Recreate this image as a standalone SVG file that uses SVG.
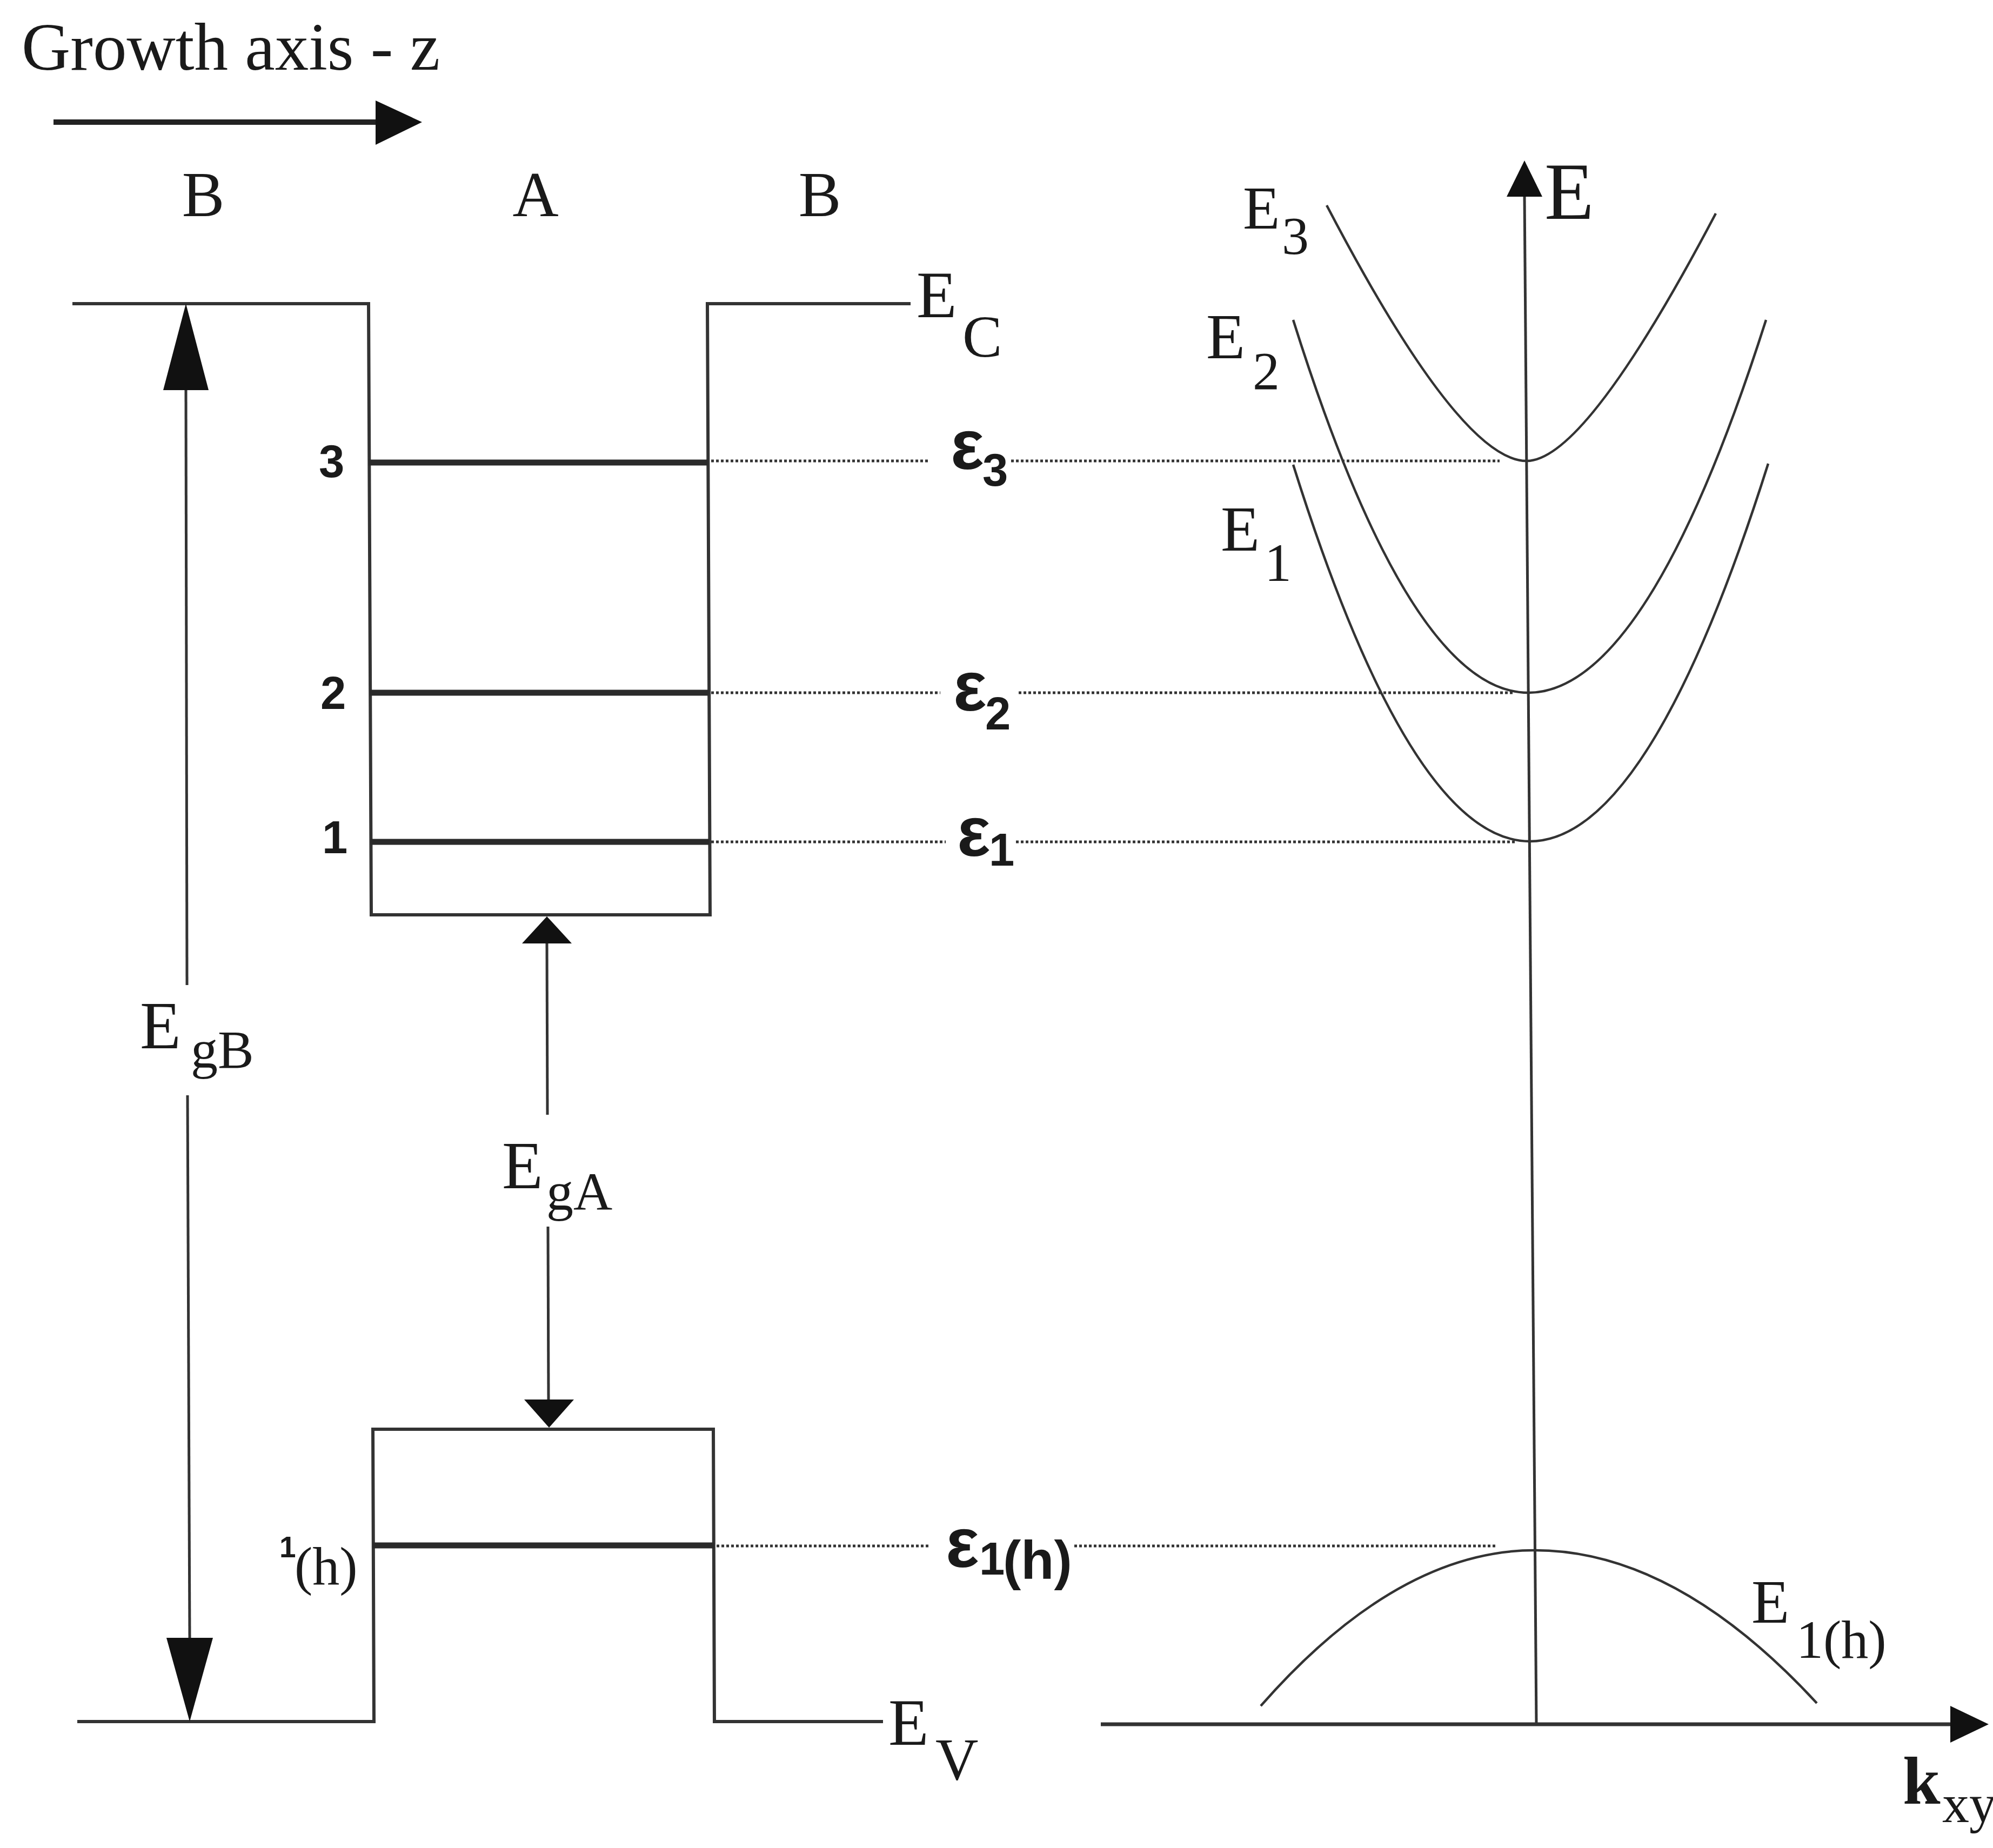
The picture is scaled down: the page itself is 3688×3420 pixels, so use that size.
<svg xmlns="http://www.w3.org/2000/svg" width="3688" height="3420" viewBox="0 0 3688 3420">
<defs>
<style>
.ln{stroke:#333;stroke-width:6;fill:none;stroke-linejoin:miter}
.lvl{stroke:#2a2a2a;stroke-width:11;fill:none}
.thin{stroke:#333;stroke-width:5;fill:none}
.dot{stroke:#333;stroke-width:5;fill:none;stroke-dasharray:5 4}
.crv{stroke:#333;stroke-width:4.5;fill:none}
.ah{fill:#111;stroke:none}
.serif{font-family:"Liberation Serif","Times New Roman",serif;fill:#1a1a1a}
.sans{font-family:"Liberation Sans",Arial,sans-serif;font-weight:bold;fill:#1a1a1a}
</style>
</defs>
<rect width="3688" height="3420" fill="#fff"/>

<g id="growth-axis">
<text class="serif" x="40" y="129" font-size="125">Growth axis - z</text>
<line x1="99" y1="226" x2="700" y2="226" stroke="#222" stroke-width="10"/>
<polygon class="ah" points="695,186 781,226 695,268"/>
</g>

<g id="region-labels" class="serif" font-size="118" text-anchor="middle">
<text x="376" y="400">B</text>
<text x="991" y="400">A</text>
<text x="1517" y="400">B</text>
</g>

<g id="conduction-band">
<path class="ln" d="M134,562 H682 L687,1693 H1314 L1309,562 H1685"/>
<text class="serif" x="1696" y="587" font-size="122">E</text>
<text class="serif" x="1781" y="660" font-size="110">C</text>
</g>

<g id="valence-band">
<path class="ln" d="M143,3186 H692 L690,2645 H1320 L1322,3186 H1634"/>
<text class="serif" x="1644" y="3229" font-size="122">E</text>
<text class="serif" x="1731" y="3293" font-size="110">V</text>
</g>

<g id="level-3">
<line class="lvl" x1="682" y1="856" x2="1310" y2="856"/>
<text class="sans" x="590" y="883" font-size="85">3</text>
<text class="sans" x="1759" y="868" font-size="130">ε</text>
<text class="sans" x="1818" y="899" font-size="85">3</text>
</g>
<g id="level-2">
<line class="lvl" x1="684" y1="1282" x2="1312" y2="1282"/>
<text class="sans" x="593" y="1312" font-size="85">2</text>
<text class="sans" x="1764" y="1315" font-size="130">ε</text>
<text class="sans" x="1823" y="1350" font-size="85">2</text>
</g>
<g id="level-1">
<line class="lvl" x1="686" y1="1558" x2="1313" y2="1558"/>
<text class="sans" x="596" y="1579" font-size="85">1</text>
<text class="sans" x="1771" y="1584" font-size="130">ε</text>
<text class="sans" x="1830" y="1602" font-size="85">1</text>
</g>
<g id="level-1h">
<line class="lvl" x1="690" y1="2860" x2="1322" y2="2860"/>
<text class="sans" x="517" y="2882" font-size="55">1</text>
<text class="serif" x="545" y="2932" font-size="100">(h)</text>
<text class="sans" x="1750" y="2900" font-size="130">ε</text>
<text class="sans" x="1812" y="2914" font-size="85">1</text>
<text class="sans" x="1856" y="2922" font-size="100" font-weight="normal">(h)</text>
</g>

<g id="gap-EgB">
<text class="serif" x="259" y="1940" font-size="124">E</text>
<text class="serif" x="353" y="1976" font-size="100">gB</text>
</g>
<g id="gap-EgA">
<text class="serif" x="929" y="2199" font-size="124">E</text>
<text class="serif" x="1011" y="2239" font-size="100">gA</text>
</g>

<g id="connectors">
<line class="dot" x1="1316" y1="853" x2="1719" y2="853"/>
<line class="dot" x1="1871" y1="853" x2="2775" y2="853"/>
<line class="dot" x1="1316" y1="1282" x2="1740" y2="1282"/>
<line class="dot" x1="1885" y1="1282" x2="2800" y2="1282"/>
<line class="dot" x1="1316" y1="1558" x2="1750" y2="1558"/>
<line class="dot" x1="1880" y1="1558" x2="2805" y2="1558"/>
<line class="dot" x1="1326" y1="2861" x2="1720" y2="2861"/>
<line class="dot" x1="1988" y1="2861" x2="2769" y2="2861"/>
<line class="thin" x1="344" y1="722" x2="346" y2="1823"/>
<line class="thin" x1="347" y1="2027" x2="351" y2="3031"/>
<polygon class="ah" points="344,562 302,722 386,722"/>
<polygon class="ah" points="351,3186 308,3031 394,3031"/>
<line class="thin" x1="1012" y1="1744" x2="1013" y2="2063"/>
<line class="thin" x1="1014" y1="2270" x2="1015" y2="2590"/>
<polygon class="ah" points="1012,1696 966,1746 1058,1746"/>
<polygon class="ah" points="1016,2642 970,2590 1062,2590"/>
</g>

<g id="dispersion">
<line class="thin" x1="2843" y1="3191" x2="2821" y2="360"/>
<polygon class="ah" points="2821,297 2788,364 2854,364"/>
<text class="serif" x="2858" y="405" font-size="150">E</text>
<line x1="2037" y1="3191" x2="3615" y2="3191" stroke="#333" stroke-width="7"/>
<polygon class="ah" points="3680,3191 3609,3157 3609,3225"/>
<text class="serif" x="3521" y="3338" font-size="125" font-weight="bold">k</text>
<text class="serif" x="3594" y="3372" font-size="100">xy</text>
</g>
<g id="band-E3">
<path class="crv" d="M2455,380 Q2702,853 2825,853 Q2934,853 3175,395"/>
<text class="serif" x="2300" y="423" font-size="112">E</text>
<text class="serif" x="2372" y="470" font-size="100">3</text>
</g>
<g id="band-E2">
<path class="crv" d="M2393,592 Q2610,1282 2828,1282 Q3048,1282 3268,592"/>
<text class="serif" x="2232" y="663" font-size="118">E</text>
<text class="serif" x="2318" y="720" font-size="100">2</text>
</g>
<g id="band-E1">
<path class="crv" d="M2393,860 Q2612,1557 2831,1557 Q3051,1557 3272,858"/>
<text class="serif" x="2259" y="1019" font-size="118">E</text>
<text class="serif" x="2340" y="1075" font-size="100">1</text>
</g>
<g id="band-E1h">
<path class="crv" d="M2333,3157 Q2586,2869 2840,2869 Q3101,2869 3362,3152"/>
<text class="serif" x="3241" y="3003" font-size="115">E</text>
<text class="serif" x="3324" y="3068" font-size="100">1(h)</text>
</g>
</svg>
